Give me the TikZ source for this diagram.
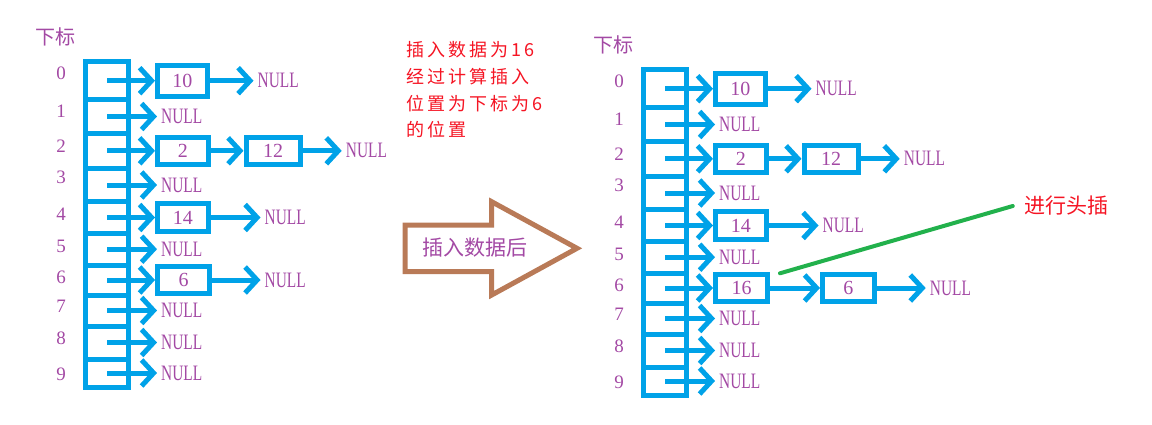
\documentclass[tikz,border=0pt]{standalone}
\usepackage{fontspec}
\usepackage{xcolor}
\usepackage{tikz}
\usetikzlibrary{positioning}
\usetikzlibrary{arrows.meta}
\newfontfamily\cjkfont{Noto Sans CJK SC}
\newfontfamily\cjkspaced{Noto Sans CJK SC}[LetterSpace=17]
\newfontfamily\numfont{Liberation Serif}
\newfontfamily\nullface{Liberation Serif}[FakeStretch=0.7]
\definecolor{linkcolor}{RGB}{0,162,232}
\definecolor{textcolor}{RGB}{163,73,164}
\definecolor{notecolor}{RGB}{245,20,35}
\definecolor{hintcolor}{RGB}{34,177,76}
\definecolor{bigarrowcolor}{RGB}{185,122,87}
\tikzset{
	,bucket/.style	= {draw = linkcolor, line width = 5pt, minimum width = 42.6pt, inner sep = 0}
	,item/.style	= {draw = linkcolor, line width = 5pt, inner sep = 0, text = textcolor, font = \numfont\fontsize{20}{20}\selectfont}
	,null/.style	= {inner sep = 0, inner xsep = 4pt, text = textcolor, font = \nullface\fontsize{22}{22}\selectfont}
	,idx/.style		= {inner sep = 0, text = textcolor, font = \numfont\fontsize{19}{19}\selectfont}
	,head/.style	= {inner sep = 0, text = textcolor, font = \cjkfont\fontsize{20}{20}\selectfont}
	,link/.style	= {linkcolor, line width = 5pt, -{Straight Barb[length=12pt, width=26pt]}}
	,note/.style	= {inner sep = 0, text = notecolor, align = left, font = \cjkspaced\fontsize{18}{26.7}\selectfont}
	,hint/.style	= {inner sep = 0, inner xsep = 11pt, text = notecolor, font = \cjkfont\fontsize{21}{21}\selectfont}
	,hintline/.style = {hintcolor, line width = 4pt, line cap = round}
	,bigarrow/.style = {draw = bigarrowcolor, line width = 5pt}
	,after/.style	= {inner sep = 0, text = textcolor, font = \cjkfont\fontsize{21}{21}\selectfont}
}
\begin{document}
\begin{tikzpicture}[x=1pt, y=-1pt]
	\useasboundingbox (0,0) rectangle (1152,424);

	% the two tables, before and after the insert
	\foreach \s/\dx/\dy/\first in {L/0/0/6, R/558/8/16}{
	\begin{scope}[shift={(\dx,\dy)}]
		\node[head] (\s-head) at (55,36.5) {下标};

		% the buckets and their indices
		\foreach \i/\y/\h/\ly in {0/80.7/38/73.5, 1/116.5/33.6/111.7, 2/150.8/35/146, 3/185/33.4/177.7, 4/217.5/31.6/214,
				5/249.2/31.7/246, 6/280/30/277, 7/310.5/31/306.7, 8/342.5/33/338.5, 9/373/28/374}{
			\node[bucket, minimum height=\h pt] (\s\i) at (107,\y) {};
			\node[idx] (\s-idx\i) at (61,\ly) {\i};
		}

		% empty buckets
		\foreach \i in {1,3,5,7,8,9}{
			\node[null, right=50pt of \s\i.center] (\s-null\i) {NULL};
			\draw[link] (\s\i.center) -- (\s-null\i.west);
		}

		% the lists
		\node[item, minimum width=49.5pt, minimum height=31pt, right=48pt of \s0.center] (\s-a0) {10};
		\node[null, right=44pt of \s-a0] (\s-null0) {NULL};
		\draw[link] (\s0.center) -- (\s-a0);
		\draw[link] (\s-a0) -- (\s-null0);

		\node[item, minimum width=50.5pt, minimum height=27pt, right=48pt of \s2.center] (\s-a2) {2};
		\node[item, minimum width=54.2pt, minimum height=26.6pt, right=33pt of \s-a2] (\s-b2) {12};
		\node[null, right=39pt of \s-b2] (\s-null2) {NULL};
		\draw[link] (\s2.center) -- (\s-a2);
		\draw[link] (\s-a2) -- (\s-b2);
		\draw[link] (\s-b2) -- (\s-null2);

		\node[item, minimum width=50.5pt, minimum height=27.5pt, right=48pt of \s4.center] (\s-a4) {14};
		\node[null, right=50pt of \s-a4] (\s-null4) {NULL};
		\draw[link] (\s4.center) -- (\s-a4);
		\draw[link] (\s-a4) -- (\s-null4);

		\node[item, minimum width=52pt, minimum height=27.5pt, right=48pt of \s6.center] (\s-a6) {\first};
		\draw[link] (\s6.center) -- (\s-a6);
	\end{scope}
	}

	% bucket 6 before and after
	\node[null, right=48.5pt of L-a6] (L-null6) {NULL};
	\draw[link] (L-a6) -- (L-null6);

	\node[item, minimum width=51.7pt, minimum height=26.5pt, right=50pt of R-a6] (R-b6) {6};
	\node[null, right=49pt of R-b6] (R-null6) {NULL};
	\draw[link] (R-a6) -- (R-b6);
	\draw[link] (R-b6) -- (R-null6);

	% the notes
	\node[note, anchor=north west] (explain) at (406,41.5) {插入数据为16\\经过计算插入\\位置为下标为6\\的位置};

	\node[hint] (hint) at (1066,206) {进行头插};
	\coordinate (hint-tail) at (780,273.3);
	\draw[hintline] (hint-tail) -- (hint.west);

	% the big arrow
	\draw[bigarrow] (405,225) -- (491.7,225) -- (491.7,201.7) -- (577,248.3)
		-- (491.7,295) -- (491.7,271.7) -- (405,271.7) -- cycle;
	\node[after] (after) at (475,248) {插入数据后};
\end{tikzpicture}
\end{document}
